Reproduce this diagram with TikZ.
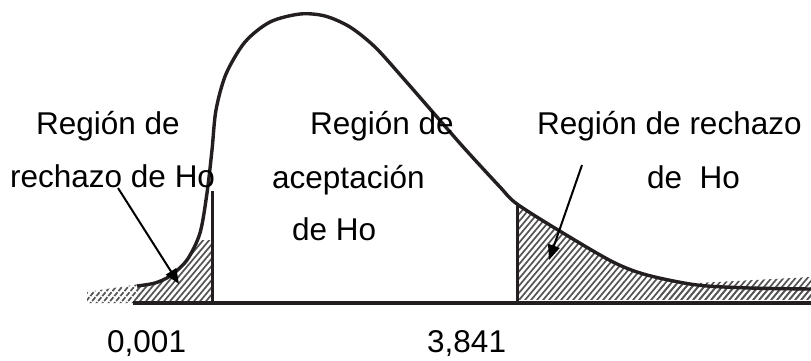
\documentclass[tikz,border=0pt]{standalone}
\usepackage{fontspec}
\setmainfont{Liberation Sans}
\usetikzlibrary{arrows.meta}
\definecolor{ink}{RGB}{35,31,32}
\definecolor{hatchc}{RGB}{85,85,85}
\begin{document}
\begin{tikzpicture}[x=1pt,y=-1pt,
  lbl/.style={font=\fontsize{31.5}{36}\selectfont, anchor=base west, inner sep=0pt, text=black},
  curveline/.style={draw=ink, line width=3.4pt, line join=round},
  wall/.style={draw=ink, line width=3pt},
  axisline/.style={draw=ink, line width=3.6pt},
  hatch/.style={draw=hatchc, line width=1.7pt},
  pointer/.style={draw=black, line width=2pt, -{Triangle[length=15pt,width=12pt]}}]
\useasboundingbox (0,0) rectangle (811,360);

% hatching, left rejection region
\begin{scope}
  \clip (137,303) -- plot[smooth] coordinates {(137,286) (155,283) (170,276) (187,260) (200,233) (207,193) (212,150) (216,110) (226,74) (245,42) (270,22) (300,14) (325,16) (350,27) (375,47) (403,78) (437,117) (465,149) (500,187) (517,204) (563,233) (613,262) (647,275) (697,285) (750,288) (811,289)} -- (811,303) -- cycle;
  \clip (80,240) rectangle (212,303);
  \foreach \x in {-200,-194,...,820} \draw[hatch] (\x,306) -- ++(130,-155);
\end{scope}
\begin{scope}
  \clip (87,303) -- (87,292) -- (140,284) -- (140,303) -- cycle;
  \foreach \x in {-200,-194,...,820} \draw[hatch, dash pattern=on 5pt off 1.5pt] (\x,306) -- ++(130,-155);
\end{scope}
% hatching, right rejection region
\begin{scope}
  \clip (137,303) -- plot[smooth] coordinates {(137,286) (155,283) (170,276) (187,260) (200,233) (207,193) (212,150) (216,110) (226,74) (245,42) (270,22) (300,14) (325,16) (350,27) (375,47) (403,78) (437,117) (465,149) (500,187) (517,204) (563,233) (613,262) (647,275) (697,285) (750,288) (811,289)} -- (811,303) -- cycle;
  \clip (517,150) rectangle (811,299);
  \foreach \x in {-200,-194,...,820} \draw[hatch] (\x,306) -- ++(130,-155);
\end{scope}
\begin{scope}
  \clip (660,299) -- (660,285) -- (811,277) -- (811,299) -- cycle;
  \foreach \x in {-200,-194,...,820} \draw[hatch] (\x,306) -- ++(130,-155);
\end{scope}

% axis and walls
\coordinate (axL) at (133,303);
\coordinate (axR) at (811,303);
\coordinate (wLb) at (212,303);
\coordinate (wLt) at (212,191);
\coordinate (wRb) at (517,303);
\coordinate (wRt) at (517,204);
\draw[axisline] (axL) -- (axR);
\draw[wall] (wLb) -- (wLt);
\draw[wall] (wRb) -- (wRt);

% density curve
\draw[curveline] plot[smooth] coordinates {(137,286) (155,283) (170,276) (187,260) (200,233) (207,193) (212,150) (216,110) (226,74) (245,42) (270,22) (300,14) (325,16) (350,27) (375,47) (403,78) (437,117) (465,149) (500,187) (517,204) (563,233) (613,262) (647,275) (697,285) (750,288) (811,289)};

% labels
\node[lbl] (l1) at (36,134) {Región de};
\node[lbl] (l2) at (10,187) {rechazo de Ho};
\node[lbl] (m1) at (310,134) {Región de};
\node[lbl] (m2) at (272,188) {aceptación};
\node[lbl] (m3) at (292,240) {de Ho};
\node[lbl] (r1) at (537,134) {Región de rechazo};
\node[lbl] (r2) at (647,188) {de~~Ho};
\node[lbl] (n1) at (107,352) {0,001};
\node[lbl] (n2) at (427,352) {3,841};

% pointers
\coordinate (pLs) at (118,188);
\coordinate (pLt) at (179,284);
\coordinate (pRs) at (582,165);
\coordinate (pRt) at (549,260);
\draw[pointer] (pLs) -- (pLt);
\draw[pointer] (pRs) -- (pRt);
\end{tikzpicture}
\end{document}
